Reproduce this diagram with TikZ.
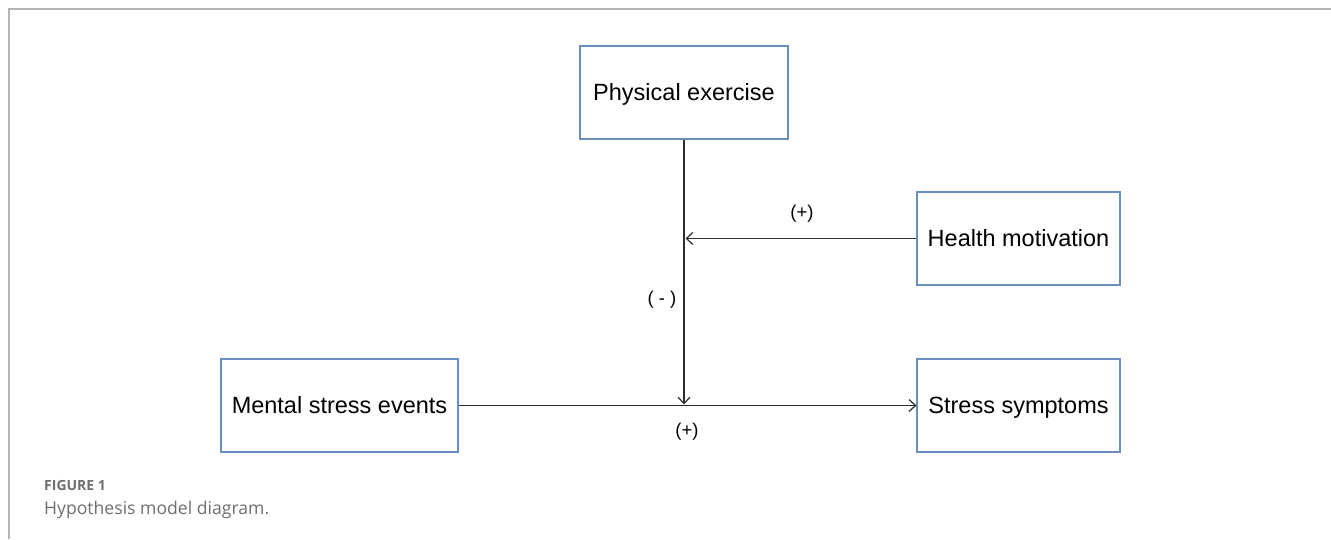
\documentclass[tikz,border=0pt]{standalone}
\usepackage{fontspec}
\setmainfont{Liberation Sans}
\newfontfamily\capfont{Open Sans}
\usetikzlibrary{arrows.meta}
\definecolor{boxblue}{HTML}{6A8EC0}
\definecolor{frameg}{HTML}{B4B4B4}
\definecolor{capg}{HTML}{6E6E6E}
\definecolor{lineg}{HTML}{2E2E2E}
\begin{document}
\begin{tikzpicture}[x=1pt,y=-1pt,
  box/.style={draw=boxblue,line width=1.2pt,minimum height=93pt,inner sep=0pt,
    text height=16.8pt,text depth=0pt,
    font=\fontsize{23.5}{28}\selectfont},
  conn/.style={draw=lineg,line width=1.3pt,-{Straight Barb[length=6.5pt,width=12pt,line width=1.2pt]}},
  lbl/.style={font=\fontsize{18.5}{22}\selectfont,inner sep=0pt},
  frame/.style={draw=frameg,line width=2pt},
  capa/.style={anchor=base west,inner sep=0pt,text=capg,font=\capfont\fontsize{14}{17}\selectfont\bfseries},
  capb/.style={anchor=base west,inner sep=0pt,text=capg,font=\capfont\fontsize{17.6}{21}\selectfont}]
\useasboundingbox (0,0) rectangle (1331,539);
% frame
\draw[frame] (9,539) -- (9,9) -- (1331,9);
% boxes
\node[box,minimum width=208pt] (pe) at (684,92.5) {Physical exercise};
\node[box,minimum width=203pt] (hm) at (1018.5,238.5) {Health motivation};
\node[box,minimum width=237pt] (ms) at (339.5,405.5) {Mental stress events};
\node[box,minimum width=203pt] (ss) at (1018.5,405.5) {Stress symptoms};
% connector junctions
\coordinate (mid) at (684,404.5);
\coordinate (hj) at (685.5,238.5);
\draw[conn] (ms.east) -- (ss.west);
\draw[conn] (pe.south) -- (mid);
\draw[conn] (hm.west) -- (hj);
% labels
\node[lbl] (l1) at (802,214) {(+)};
\node[lbl] (l2) at (662,300) {( - )};
\node[lbl] (l3) at (687,432) {(+)};
% caption
\node[capa] (c1) at (44,490) {FIGURE 1};
\node[capb] (c2) at (44,514) {Hypothesis model diagram.};
\end{tikzpicture}
\end{document}
